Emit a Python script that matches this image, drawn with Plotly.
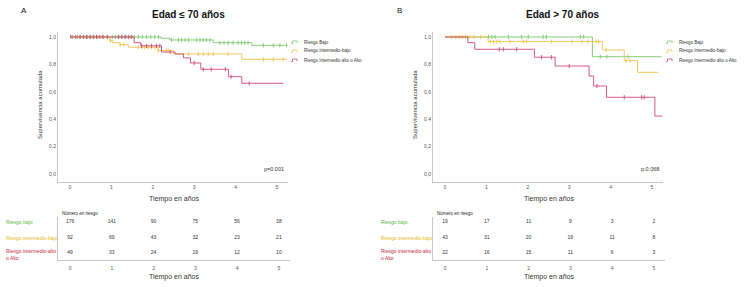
import numpy as np
import plotly.graph_objects as go

W, H = 750, 287

# ---------------- DATA ----------------
series_names = ["Riesgo Bajo", "Riesgo Intermedio-bajo", "Riesgo Intermedio alto o Alto"]
table_labels = ["Riesgo bajo", "Riesgo intermedio-bajo", "Riesgo intermedio-alto<br>o Alto"]
colors = ["#7cc66b", "#f2c34a", "#cf4677"]
label_colors = ["#5cb84a", "#e8b820", "#c8283c"]
time_ticks = [0, 1, 2, 3, 4, 5]
y_ticks = [0.0, 0.2, 0.4, 0.6, 0.8, 1.0]
y_ticktext = ["0,0", "0,2", "0,4", "0,6", "0,8", "1,0"]

# Panel A (Edad <= 70)
a_bajo_t = [0, 2.2, 2.4, 3.46, 4.39, 5.25]
a_bajo_s = [1.0, 0.99, 0.978, 0.958, 0.939, 0.939]
a_bajo_c = [0.06, 0.18, 0.26, 0.34, 0.42, 0.5, 0.58, 0.66, 0.78, 0.9, 1.02, 1.1, 1.18, 1.25,
            1.35, 1.45, 1.55, 1.65, 1.75, 1.85, 1.95, 2.05, 2.14, 2.45, 2.62, 2.7, 2.78, 2.86,
            3.06, 3.14, 3.22, 3.3, 3.38, 3.62, 3.72, 3.82, 3.94, 4.06, 4.14, 4.22, 4.3,
            4.67, 4.91, 5.07, 5.23]
a_int_t = [0, 0.95, 1.03, 1.21, 1.41, 2.13, 2.5, 4.15, 5.23]
a_int_s = [1.0, 0.973, 0.958, 0.944, 0.925, 0.90, 0.876, 0.837, 0.837]
a_int_c = [0.98, 1.21, 1.3, 1.65, 1.73, 1.81, 1.89, 1.97, 2.05, 2.13, 2.33, 2.37,
           2.86, 3.1, 3.22, 3.34, 3.46, 3.82, 4.67, 4.91, 5.15]
a_alto_t = [0, 1.55, 1.71, 2.21, 2.54, 2.74, 2.91, 3.16, 3.83, 4.15, 5.15]
a_alto_s = [1.0, 0.958, 0.935, 0.89, 0.876, 0.847, 0.81, 0.764, 0.71, 0.662, 0.662]
a_alto_c = [0.02, 0.14, 0.24, 0.32, 0.4, 0.48, 0.56, 0.64, 0.72, 0.8, 0.9, 1.17, 1.25,
            1.33, 1.41, 1.49, 1.73, 1.85, 1.97, 2.09, 2.17, 2.42, 3.0, 3.22, 3.41, 3.75,
            3.89, 4.33]

# Panel B (Edad > 70)
b_bajo_t = [0, 3.56, 5.23]
b_bajo_s = [1.0, 0.856, 0.856]
b_bajo_c = [1.05, 1.13, 1.21, 1.53, 1.85, 2.01, 2.37, 2.45, 3.27, 3.35, 3.75, 3.91, 4.42]
b_int_t = [0, 1.04, 3.8, 4.33, 4.65, 5.15]
b_int_s = [1.0, 0.966, 0.905, 0.827, 0.742, 0.742]
b_int_c = [0.16, 0.26, 0.34, 0.42, 0.5, 0.58, 0.7, 0.86, 1.09, 1.17, 1.25, 1.33, 1.57,
           1.89, 1.97, 2.57, 3.07, 3.31, 3.45, 3.65, 3.71, 3.89, 4.37, 4.47]
b_alto_t = [0, 0.55, 0.72, 2.16, 2.66, 3.48, 3.59, 3.9, 5.07, 5.25]
b_alto_s = [1.0, 0.958, 0.91, 0.852, 0.788, 0.715, 0.642, 0.56, 0.423, 0.423]
b_alto_c = [1.31, 1.41, 1.73, 2.33, 2.57, 3.0, 3.67, 4.33, 4.75, 4.81]

# Number at risk
a_risk = [[176, 141, 90, 75, 56, 38],
          [92, 69, 43, 32, 23, 21],
          [49, 33, 24, 19, 12, 10]]
b_risk = [[19, 17, 11, 9, 3, 2],
          [43, 31, 20, 19, 11, 8],
          [22, 16, 15, 11, 6, 3]]

p_values = ["p=0.001", "p:0.068"]
titles = ["Edad ≤ 70 años", "Edad > 70 años"]
letters = ["A", "B"]

# ---------------- LAYOUT HELPERS ----------------
FONT = "Liberation Sans"
def fx(px):
    return px / W
def fy(py):
    return 1 - py / H

PXPY = 41.4           # pixels per year
panels_x0 = [58, 433] # y-axis line pixel
zero_off = 12         # t=0 offset from axis line
ax_w = 230

fig = go.Figure()

def step_value(t_arr, s_arr, c):
    idx = np.searchsorted(np.array(t_arr), np.array(c), side="right") - 1
    return np.array(s_arr)[idx]

panel_series = [
    [(a_bajo_t, a_bajo_s, a_bajo_c), (a_int_t, a_int_s, a_int_c), (a_alto_t, a_alto_s, a_alto_c)],
    [(b_bajo_t, b_bajo_s, b_bajo_c), (b_int_t, b_int_s, b_int_c), (b_alto_t, b_alto_s, b_alto_c)],
]
risks = [a_risk, b_risk]

def ann(px, py, text, size, color="#333", xanchor="center", **kw):
    return dict(x=fx(px), y=fy(py), xref="paper", yref="paper", text=text, showarrow=False,
                xanchor=xanchor, yanchor="middle", font=dict(size=size, color=color, family=FONT), **kw)

annotations = []
shapes = []
for p in range(2):
    x0 = panels_x0[p]
    km_x = "x" if p == 0 else "x3"
    km_y = "y" if p == 0 else "y3"
    tb_x = "x2" if p == 0 else "x4"
    tb_y = "y2" if p == 0 else "y4"
    # KM curves
    for i, (t, s, c) in enumerate(panel_series[p]):
        fig.add_trace(go.Scatter(x=t, y=s, mode="lines", line=dict(color=colors[i], width=0.9, shape="hv"),
                                 xaxis=km_x, yaxis=km_y, showlegend=False, hoverinfo="skip"))
        fig.add_trace(go.Scatter(x=c, y=step_value(t, s, c), mode="markers",
                                 marker=dict(symbol="line-ns", size=3, line=dict(color=colors[i], width=0.9)),
                                 xaxis=km_x, yaxis=km_y, showlegend=False, hoverinfo="skip"))
    # risk table
    for i in range(3):
        fig.add_trace(go.Scatter(x=time_ticks, y=[i] * len(time_ticks), mode="text",
                                 text=[str(v) for v in risks[p][i]],
                                 textfont=dict(size=5, color="#333", family=FONT),
                                 xaxis=tb_x, yaxis=tb_y, showlegend=False, hoverinfo="skip"))
        annotations.append(ann(x0 - 54, 222 + 15.5 * i + (1.5 if i == 2 else 0), table_labels[i], 5,
                               color=label_colors[i], xanchor="left", align="left"))
    # legend text + icons
    for i in range(3):
        ly = 42 + 9 * i
        annotations.append(ann(x0 + 244, ly, series_names[i], 4.5, xanchor="left"))
        lx = x0 + 233
        shapes.append(dict(type="path", xref="paper", yref="paper",
                           path=f"M {fx(lx)} {fy(ly+1.5)} L {fx(lx+1.5)} {fy(ly+1.5)} L {fx(lx+1.5)} {fy(ly-1)} L {fx(lx+6)} {fy(ly-1)} L {fx(lx+6)} {fy(ly+1)}",
                           line=dict(color=colors[i], width=0.8)))
    # texts
    annotations += [
        ann(x0 + 130, 14, f"<b>{titles[p]}</b>", 10, color="#111"),
        ann(x0 - 34, 10, letters[p], 8, color="#111"),
        ann(x0 - 18, 105, "Supervivencia acumulada", 6, textangle=-90),
        ann(x0 + 228, 169, p_values[p], 5.5, xanchor="right"),
        ann(x0 + 116, 199, "Tiempo en años", 7),
        ann(x0 + 116, 277, "Tiempo en años", 7),
        ann(x0 + 2, 213, "Número en riesgo", 4.5, color="#222", xanchor="left"),
    ]

xr = [-zero_off / PXPY, (ax_w - zero_off) / PXPY]
axis_common = dict(showgrid=False, zeroline=False, showline=True, linecolor="#c8c8c8", linewidth=1,
                   ticks="", tickfont=dict(size=5, color="#555", family=FONT), fixedrange=True)
layout_axes = {}
for p in range(2):
    x0 = panels_x0[p]
    dom = [fx(x0), fx(x0 + ax_w)]
    kx = "xaxis" if p == 0 else "xaxis3"
    ky = "yaxis" if p == 0 else "yaxis3"
    tx = "xaxis2" if p == 0 else "xaxis4"
    ty = "yaxis2" if p == 0 else "yaxis4"
    layout_axes[kx] = dict(axis_common, domain=dom, range=xr, tickvals=time_ticks,
                           anchor="y" if p == 0 else "y3")
    layout_axes[ky] = dict(axis_common, domain=[fy(182), fy(32)], range=[-0.058, 1.036],
                           tickvals=y_ticks, ticktext=y_ticktext, anchor="x" if p == 0 else "x3")
    layout_axes[tx] = dict(axis_common, domain=[fx(x0), fx(x0 + ax_w + 2)], range=xr, tickvals=time_ticks,
                           anchor="y2" if p == 0 else "y4", ticklabelstandoff=3)
    layout_axes[ty] = dict(axis_common, domain=[fy(260), fy(217)], range=[2.45, -0.32],
                           showticklabels=False, anchor="x2" if p == 0 else "x4")

fig.update_layout(width=W, height=H, margin=dict(l=0, r=0, t=0, b=0), paper_bgcolor="white",
                  plot_bgcolor="white", showlegend=False, annotations=annotations, shapes=shapes,
                  **layout_axes)
fig.write_html("out.html", config={"displayModeBar": False},
               post_script="document.body.style.margin='0';document.body.style.overflow='hidden';")
